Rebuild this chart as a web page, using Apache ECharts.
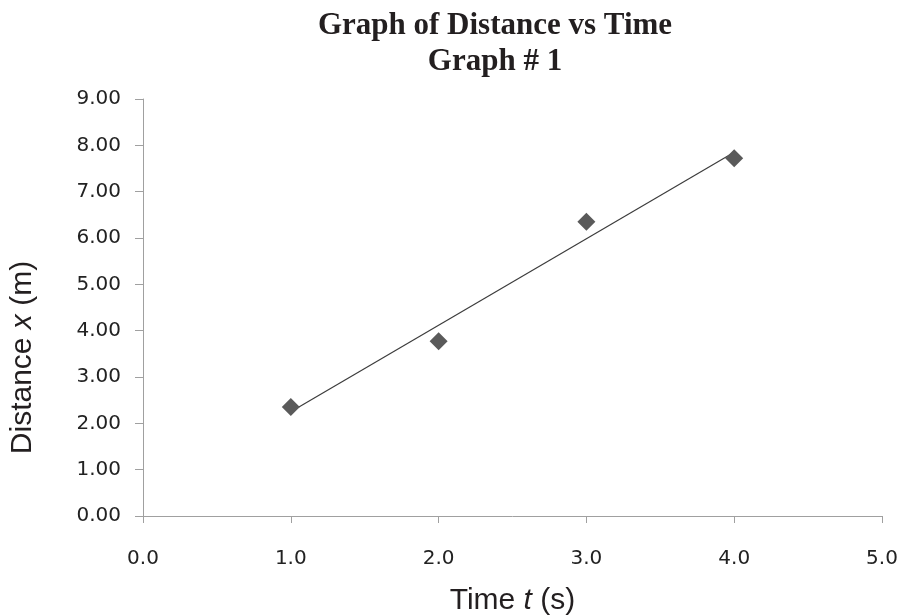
<!DOCTYPE html>
<html>
<head>
<meta charset="utf-8">
<script src="https://cdn.jsdelivr.net/npm/echarts@6/dist/echarts.min.js"></script>
<style>
  html, body { margin: 0; padding: 0; background: #fff; }
  #chart { width: 900px; height: 615px; }
</style>
</head>
<body>
<div id="chart"></div>
<script>
// measured points (time in s, distance in m)
const timeValues = [1, 2, 3, 4]
const distanceValues = [2.35, 3.77, 6.35, 7.72]
// linear trendline end points
const trendTime = [1, 4]
const trendDistance = [2.25, 7.85]

const chart = echarts.init(document.getElementById('chart'))

const axisGrey = '#a0a0a0'
const labelFont = { fontFamily: 'DejaVu Sans', fontSize: 20, color: '#222' }

const option = {
  animation: false,
  backgroundColor: '#fff',
  title: {
    text: 'Graph of Distance vs Time\nGraph # 1',
    left: 490,
    top: 3,
    textAlign: 'center',
    textStyle: {
      fontFamily: 'Liberation Serif',
      fontWeight: 'bold',
      fontSize: 31,
      lineHeight: 36,
      color: '#231f20'
    }
  },
  grid: {
    left: 143,
    right: 18,
    top: 99,
    bottom: 99,
    outerBoundsMode: 'none'
  },
  xAxis: {
    type: 'value',
    min: 0,
    max: 5,
    interval: 1,
    name: 'Time {i|t} (s)',
    nameLocation: 'middle',
    nameGap: 70,
    nameTextStyle: {
      fontFamily: 'Liberation Sans',
      fontSize: 30,
      color: '#231f20',
      rich: {
        i: { fontFamily: 'Liberation Sans', fontSize: 30, fontStyle: 'italic', color: '#231f20' }
      }
    },
    axisLine: { show: true, lineStyle: { color: axisGrey, width: 1 } },
    axisTick: { show: true, length: 7, lineStyle: { color: axisGrey } },
    splitLine: { show: false },
    axisLabel: {
      margin: 33,
      ...labelFont,
      formatter: v => v.toFixed(1)
    }
  },
  yAxis: {
    type: 'value',
    min: 0,
    max: 9,
    interval: 1,
    name: 'Distance {i|x} (m)',
    nameLocation: 'middle',
    nameGap: 105,
    nameTextStyle: {
      fontFamily: 'Liberation Sans',
      fontSize: 30,
      color: '#231f20',
      padding: [0, 100, 0, 0],
      rich: {
        i: { fontFamily: 'Liberation Sans', fontSize: 30, fontStyle: 'italic', color: '#231f20' }
      }
    },
    axisLine: { show: true, lineStyle: { color: axisGrey, width: 1 } },
    axisTick: { show: true, length: 8, lineStyle: { color: axisGrey } },
    splitLine: { show: false },
    axisLabel: {
      margin: 22,
      ...labelFont,
      formatter: v => v.toFixed(2)
    }
  },
  series: [
    { // trendline
      name: 'trend',
      type: 'line',
      data: trendTime.map((t, i) => [t, trendDistance[i]]),
      symbol: 'none',
      lineStyle: { color: '#3c3c3c', width: 1.2 },
      z: 2
    },
    {
      name: 'distance',
      type: 'scatter',
      data: timeValues.map((t, i) => [t, distanceValues[i]]),
      symbol: 'diamond',
      symbolSize: [18, 18],
      itemStyle: { color: '#5a5a5a', opacity: 1 },
      z: 3
    }
  ]
}

option && chart.setOption(option)
</script>
</body>
</html>
